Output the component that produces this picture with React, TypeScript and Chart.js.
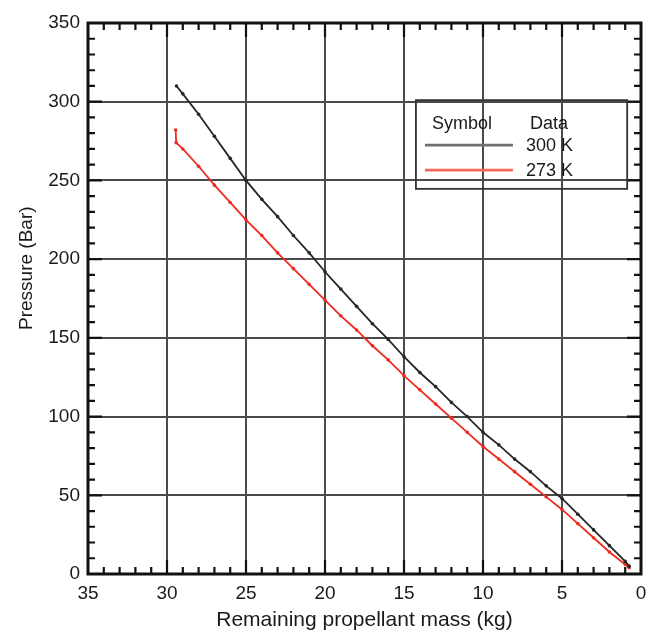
import React, { useEffect, useRef } from 'react';
import { Chart, registerables } from 'chart.js';
Chart.register(...registerables);

const xTicks = [35, 30, 25, 20, 15, 10, 5, 0];
const yTicks = [0, 50, 100, 150, 200, 250, 300, 350];

const mass300K = [29.4, 29, 28, 27, 26, 25, 24, 23, 22, 21, 20, 19, 18, 17, 16, 15, 14, 13, 12, 11, 10, 9, 8, 7, 6, 5, 4, 3, 2, 1, 0.75];
const pressure300K = [310, 305, 292, 278, 264, 250, 238, 227, 215, 204, 192, 181, 170, 159, 149, 138, 128, 119, 109, 100, 90, 82, 73, 65, 56, 48, 38, 28, 18, 8, 5];

const mass273K = [29.45, 29.42, 29, 28, 27, 26, 25, 24, 23, 22, 21, 20, 19, 18, 17, 16, 15, 14, 13, 12, 11, 10, 9, 8, 7, 6, 5, 4, 3, 2, 1, 0.75];
const pressure273K = [282, 274, 270, 259, 247, 236, 225, 215, 204, 194, 184, 174, 164, 155, 145, 136, 126, 117, 108, 99, 90, 81, 73, 65, 57, 49, 41, 32, 23, 14, 6, 4];

const seriesLabels = ['300 K', '273 K'];
const seriesColors = ['#262626', '#ee2b1f'];
const legendSwatchColors = ['#707070', '#f4665a'];
const legendHeaders = ['Symbol', 'Data'];
const xTitle = 'Remaining propellant mass (kg)';
const yTitle = 'Pressure (Bar)';

const FONT = 'Liberation Sans, Arial, sans-serif';

const decorPlugin = {
  id: 'decor',
  afterDatasetsDraw(chart: any) {
    const { ctx, chartArea: a, scales } = chart;
    const xs = scales.x;
    const ys = scales.y;
    ctx.save();
    ctx.strokeStyle = '#111';
    ctx.lineWidth = 2.2;
    ctx.beginPath();
    for (let v = 1; v < 35; v++) {
      const px = xs.getPixelForValue(v);
      const len = v % 5 === 0 ? 14 : 7;
      ctx.moveTo(px, a.bottom);
      ctx.lineTo(px, a.bottom - len);
      ctx.moveTo(px, a.top);
      ctx.lineTo(px, a.top + len);
    }
    for (let v = 10; v < 350; v += 10) {
      const py = ys.getPixelForValue(v);
      const len = v % 50 === 0 ? 14 : 7;
      ctx.moveTo(a.left, py);
      ctx.lineTo(a.left + len, py);
      ctx.moveTo(a.right, py);
      ctx.lineTo(a.right - len, py);
    }
    ctx.stroke();
    ctx.lineWidth = 3;
    ctx.strokeStyle = '#111';
    ctx.strokeRect(a.left, a.top, a.right - a.left, a.bottom - a.top);

    const W = a.right - a.left;
    const H = a.bottom - a.top;
    const bx0 = a.left + W * 0.593;
    const by0 = a.top + H * 0.14;
    const bx1 = a.left + W * 0.975;
    const by1 = a.top + H * 0.301;
    ctx.lineWidth = 1.8;
    ctx.strokeStyle = '#333';
    ctx.strokeRect(bx0, by0, bx1 - bx0, by1 - by0);

    ctx.fillStyle = '#1a1a1a';
    ctx.font = `18px ${FONT}`;
    ctx.textBaseline = 'middle';
    ctx.textAlign = 'left';
    ctx.fillText(legendHeaders[0], bx0 + 16, by0 + 24);
    ctx.fillText(legendHeaders[1], bx0 + 114, by0 + 24);
    seriesLabels.forEach((lab, i) => {
      const yy = by0 + 45 + i * 25;
      ctx.strokeStyle = legendSwatchColors[i];
      ctx.lineWidth = 2.6;
      ctx.beginPath();
      ctx.moveTo(bx0 + 9, yy);
      ctx.lineTo(bx0 + 97, yy);
      ctx.stroke();
      ctx.fillText(lab, bx0 + 110, yy + 1);
    });

    ctx.fillStyle = '#1a1a1a';
    ctx.font = `21px ${FONT}`;
    ctx.textAlign = 'center';
    ctx.textBaseline = 'middle';
    ctx.fillText(xTitle, (a.left + a.right) / 2, a.bottom + 46);
    ctx.save();
    ctx.translate(27, a.top + H * 0.445);
    ctx.rotate(-Math.PI / 2);
    ctx.font = `19px ${FONT}`;
    ctx.fillText(yTitle, 0, 0);
    ctx.restore();
    ctx.restore();
  },
};

export default function App() {
  const ref = useRef<HTMLCanvasElement | null>(null);
  useEffect(() => {
    document.body.style.margin = '0';
    const canvas = ref.current;
    if (!canvas) return;
    const chart = new Chart(canvas, {
      type: 'line',
      data: {
        datasets: [
          {
            label: seriesLabels[0],
            data: mass300K.map((m, i) => ({ x: m, y: pressure300K[i] })),
            borderColor: seriesColors[0],
            backgroundColor: seriesColors[0],
            borderWidth: 1.8,
            pointRadius: 1.8,
            pointBorderWidth: 0,
            tension: 0,
          },
          {
            label: seriesLabels[1],
            data: mass273K.map((m, i) => ({ x: m, y: pressure273K[i] })),
            borderColor: seriesColors[1],
            backgroundColor: seriesColors[1],
            borderWidth: 1.8,
            pointRadius: 1.8,
            pointBorderWidth: 0,
            tension: 0,
          },
        ],
      },
      options: {
        responsive: false,
        animation: false,
        devicePixelRatio: 1,
        layout: { padding: { left: 0, right: 19, top: 23, bottom: 0 } },
        plugins: { legend: { display: false }, tooltip: { enabled: false } },
        scales: {
          x: {
            type: 'linear',
            min: 0,
            max: 35,
            reverse: true,
            afterBuildTicks: (s: any) => {
              s.ticks = xTicks.map((v) => ({ value: v }));
            },
            afterFit: (s: any) => {
              s.height = 59;
            },
            grid: { color: '#4a4a4a', lineWidth: 2, drawTicks: false },
            border: { display: false },
            ticks: {
              padding: 8,
              color: '#1a1a1a',
              font: { family: FONT, size: 19 },
              maxRotation: 0,
            },
          },
          y: {
            type: 'linear',
            min: 0,
            max: 350,
            afterBuildTicks: (s: any) => {
              s.ticks = yTicks.map((v) => ({ value: v }));
            },
            afterFit: (s: any) => {
              s.width = 88;
            },
            grid: { color: '#4a4a4a', lineWidth: 2, drawTicks: false },
            border: { display: false },
            ticks: {
              padding: 8,
              color: '#1a1a1a',
              font: { family: FONT, size: 19 },
            },
          },
        },
      },
      plugins: [decorPlugin],
    });
    return () => chart.destroy();
  }, []);
  return (
    <div style={{ width: 660, height: 633, background: '#fff' }}>
      <canvas ref={ref} width={660} height={633} style={{ display: 'block' }} />
    </div>
  );
}
